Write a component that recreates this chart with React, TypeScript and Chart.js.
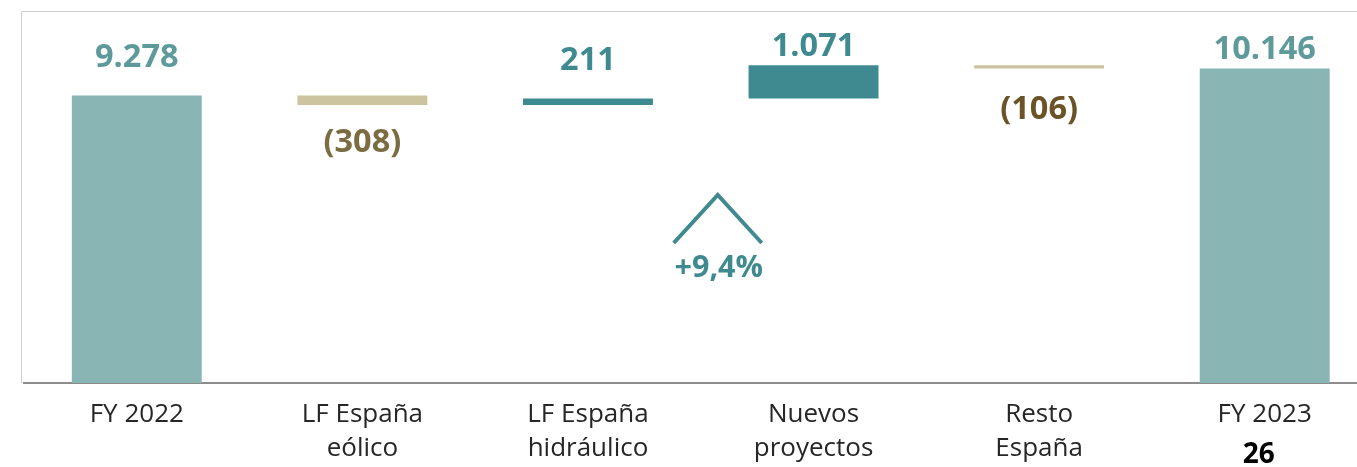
import { useEffect, useRef } from "react";
import { Chart, registerables } from "chart.js";
Chart.register(...registerables);

const categories = [
  ["FY 2022"],
  ["LF España", "eólico"],
  ["LF España", "hidráulico"],
  ["Nuevos", "proyectos"],
  ["Resto", "España"],
  ["FY 2023"],
];
const startTotal = 9278;
const deltas = [-308, 211, 1071, -106];
const endTotal = 10146;
const growthLabel = "+9,4%";
const pageNumber = "26";

const FONT = "'Open Sans', 'Noto Sans', sans-serif";

function fmt(n: number): string {
  const s = Math.abs(n).toString().replace(/\B(?=(\d{3})+(?!\d))/g, ".");
  return n < 0 ? `(${s})` : s;
}

export default function App() {
  const ref = useRef<HTMLCanvasElement | null>(null);
  useEffect(() => {
    document.body.style.overflow = "hidden";
    const ranges: [number, number][] = [[0, startTotal]];
    let cum = startTotal;
    for (const d of deltas) {
      ranges.push([cum, cum + d]);
      cum += d;
    }
    ranges.push([0, endTotal]);
    const labelValues = [startTotal, ...deltas, endTotal];

    const barColors = ["#8AB5B5", "#CCC39F", "#3E8A90", "#3E8A90", "#CCC39F", "#8AB5B5"];
    const labelColors = ["#5E9A9A", "#7B6C42", "#3E8A90", "#3E8A90", "#6B5227", "#5E9A9A"];
    const labelGap = [28, 47, 28, 9, 51, 9];

    const overlay = {
      id: "overlay",
      beforeDraw(chart: any) {
        const { ctx, chartArea } = chart;
        ctx.save();
        ctx.strokeStyle = "#D0D0D0";
        ctx.lineWidth = 1;
        ctx.beginPath();
        const lx = chartArea.left - 2.5;
        ctx.moveTo(lx, chartArea.bottom);
        ctx.lineTo(lx, chartArea.top + 0.5);
        ctx.lineTo(chart.width, chartArea.top + 0.5);
        ctx.stroke();
        ctx.restore();
      },
      afterDatasetsDraw(chart: any) {
        const { ctx, chartArea } = chart;
        const meta = chart.getDatasetMeta(0);
        ctx.save();
        ctx.textAlign = "center";
        ctx.textBaseline = "alphabetic";
        ctx.font = `bold 32.5px ${FONT}`;
        meta.data.forEach((bar: any, i: number) => {
          const v = labelValues[i];
          const top = Math.min(bar.y, bar.base);
          const bottom = Math.max(bar.y, bar.base);
          ctx.fillStyle = labelColors[i];
          const y = v >= 0 ? top - labelGap[i] : bottom + labelGap[i];
          ctx.fillText(fmt(v), bar.x, y);
        });
        // growth chevron
        const xs = chart.scales.x;
        const cx = (xs.getPixelForValue(2) + xs.getPixelForValue(3)) / 2 + 17;
        const base = chartArea.top;
        ctx.strokeStyle = "#3E8A90";
        ctx.lineWidth = 4;
        ctx.beginPath();
        ctx.moveTo(cx - 44, base + 232);
        ctx.lineTo(cx, base + 184);
        ctx.lineTo(cx + 44, base + 232);
        ctx.stroke();
        ctx.fillStyle = "#3E8A90";
        ctx.font = `bold 30.5px ${FONT}`;
        ctx.fillText(growthLabel, cx + 1, base + 266);
        // page number
        ctx.fillStyle = "#000000";
        ctx.font = `bold 28px ${FONT}`;
        ctx.fillText(pageNumber, xs.getPixelForValue(5) - 6, 463);
        ctx.restore();
      },
    };

    const chart = new Chart(ref.current!, {
      type: "bar",
      data: {
        labels: categories,
        datasets: [
          {
            data: ranges as any,
            backgroundColor: barColors,
            borderWidth: 0,
            categoryPercentage: 1,
            barPercentage: 0.576,
            grouped: false,
          },
        ],
      },
      options: {
        animation: false,
        responsive: false,
        layout: { padding: { left: 24, top: 11, right: 2.5 } },
        plugins: { legend: { display: false }, tooltip: { enabled: false } },
        scales: {
          y: { display: false, min: 0, max: 12000 },
          x: {
            grid: { display: false, drawTicks: false },
            border: { display: true, color: "#8C8C8C", width: 2 },
            ticks: {
              color: "#262626",
              font: { family: FONT, size: 26, lineHeight: 1.31 },
              padding: 15,
              maxRotation: 0,
              autoSkip: false,
            },
            afterFit(scale: any) {
              scale.height = 84;
            },
          },
        },
      },
      plugins: [overlay],
    });
    return () => chart.destroy();
  }, []);
  return (
    <div style={{ position: "absolute", left: 0, top: 0, width: 1380, height: 467, background: "#fff" }}>
      <canvas ref={ref} width={1380} height={467} style={{ width: 1380, height: 467, display: "block" }} />
    </div>
  );
}
